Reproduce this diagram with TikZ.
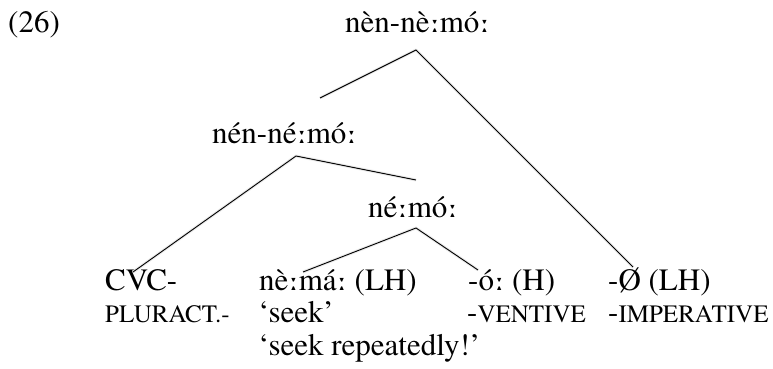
\documentclass[tikz,border=0pt]{standalone}
\usepackage{fontspec}
\IfFontExistsTF{TeX Gyre Termes}{\setmainfont{TeX Gyre Termes}}{\setmainfont{Liberation Serif}}
\newfontfamily\ipafont[Scale=0.9]{DejaVu Serif}
\newcommand{\lng}{{\ipafont\bfseries ː}}
\begin{document}
\begin{tikzpicture}[x=1pt,y=-1pt,
  lbl/.style={anchor=base west,inner sep=0pt,font=\rmfamily\fontsize{31}{37}\selectfont},
  branch/.style={draw=black,line width=0.9pt,line join=miter},
  shade/.style={draw=black!10,line width=3pt,line join=round,opacity=0.8}]
\useasboundingbox (0,0) rectangle (773,369);
\newcommand{\sca}[1]{{\fontsize{25}{30}\selectfont #1}}
% labels
\node[lbl] (num) at (8,33) {(26)};
\node[lbl] (top) at (345,33) {nèn-nè\lng mó\lng};
\node[lbl] (mid) at (212,143) {nén-né\lng mó\lng};
\node[lbl] (low) at (368,217) {né\lng mó\lng};
\node[lbl] (cvc) at (105,290) {CVC-};
\node[lbl] (stem) at (259,290) {nè\lng má\lng{} (LH)};
\node[lbl] (vent) at (468,290) {-ó\lng{} (H)};
\node[lbl] (imp) at (608,290) {-Ø (LH)};
\node[lbl] (g1) at (105,322) {\sca{PLURACT.-}};
\node[lbl] (g2) at (258,322) {‘seek’};
\node[lbl] (g3) at (467,322) {-\sca{VENTIVE}};
\node[lbl] (g4) at (608,322) {-\sca{IMPERATIVE}};
\node[lbl] (tr) at (258,355) {‘seek repeatedly!’};
% tree points
\coordinate (topL) at (320,98);
\coordinate (topA) at (416,50);
\coordinate (topR) at (633,267);
\coordinate (midA) at (296,156);
\coordinate (midL) at (133,272);
\coordinate (midR) at (416,180);
\coordinate (lowA) at (416,228);
\coordinate (lowL) at (303,272);
\coordinate (lowR) at (478,270);
% shadows
\begin{scope}[shift={(1.5,3)}]
\draw[shade] (topL) -- (topA) -- (topR);
\draw[shade] (midL) -- (midA) -- (midR);
\draw[shade] (lowL) -- (lowA) -- (lowR);
\end{scope}
% branches
\draw[branch] (topL) -- (topA) -- (topR);
\draw[branch] (midL) -- (midA) -- (midR);
\draw[branch] (lowL) -- (lowA) -- (lowR);
\end{tikzpicture}
\end{document}
